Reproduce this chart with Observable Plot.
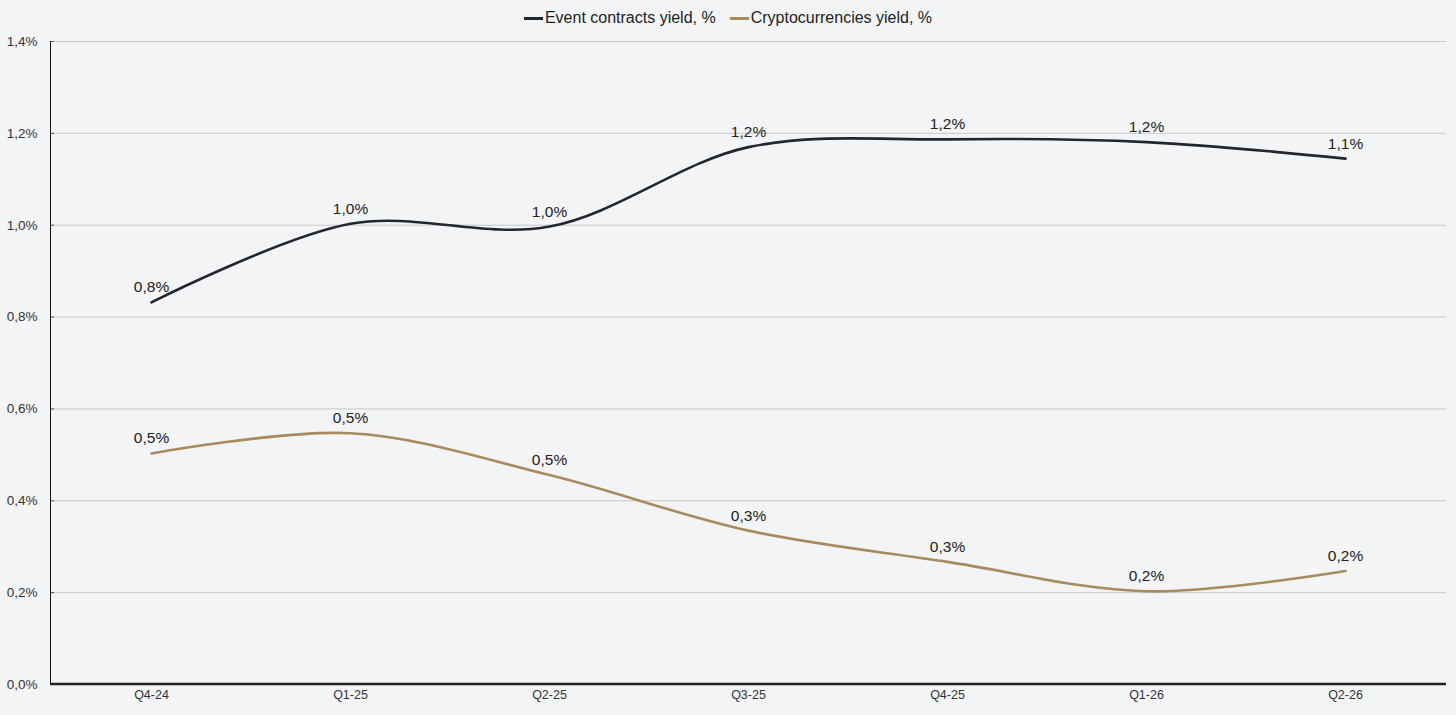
<!DOCTYPE html>
<html>
<head>
<meta charset="utf-8">
<script src="https://cdn.jsdelivr.net/npm/d3@7"></script>
<script src="https://cdn.jsdelivr.net/npm/@observablehq/plot@0.6"></script>
<style>
  html, body { margin: 0; padding: 0; background: #f3f4f6; }
  body { width: 1456px; height: 715px; overflow: hidden; font-family: "Liberation Sans", Arial, sans-serif; }
  #legend { height: 36px; display: flex; justify-content: center; align-items: center; gap: 14px; font-size: 16px; color: #222; padding-left: 0px; }
  #legend .item { display: flex; align-items: center; }
  #legend .sw { width: 19px; height: 3px; margin-right: 2px; }
  svg { overflow: visible; }
</style>
</head>
<body>
<div id="legend"></div>
<div id="chart"></div>
<script>
const quarters = ["Q4-24", "Q1-25", "Q2-25", "Q3-25", "Q4-25", "Q1-26", "Q2-26"];
const eventYield = [0.832, 1.003, 0.997, 1.17, 1.187, 1.181, 1.145];
const cryptoYield = [0.503, 0.547, 0.456, 0.335, 0.267, 0.203, 0.247];
const seriesNames = ["Event contracts yield, %", "Cryptocurrencies yield, %"];
const seriesColors = ["#22272f", "#a88b5c"];
const yTicks = [0, 0.2, 0.4, 0.6, 0.8, 1.0, 1.2, 1.4];

const fmt = v => (Math.round(v * 10) / 10).toFixed(1).replace(".", ",") + "%";

const rows = [];
quarters.forEach((q, i) => {
  rows.push({ q, v: eventYield[i], s: seriesNames[0] });
  rows.push({ q, v: cryptoYield[i], s: seriesNames[1] });
});

// legend
const legend = document.getElementById("legend");
seriesNames.forEach((name, i) => {
  const it = document.createElement("div");
  it.className = "item";
  const sw = document.createElement("span");
  sw.className = "sw";
  sw.style.background = seriesColors[i];
  const tx = document.createElement("span");
  tx.textContent = name;
  it.appendChild(sw); it.appendChild(tx);
  legend.appendChild(it);
});

const chart = Plot.plot({
  width: 1456,
  height: 679,
  marginTop: 5,
  marginBottom: 31,
  marginLeft: 50,
  marginRight: 10,
  style: { background: "#f3f4f6", fontFamily: "Liberation Sans, Arial, sans-serif", color: "#222", overflow: "visible" },
  x: { type: "point", domain: quarters, padding: 0.5, axis: null },
  y: { domain: [0, 1.4], axis: null },
  color: { domain: seriesNames, range: seriesColors },
  marks: [
    Plot.gridY(yTicks, { stroke: "#c8c8c8", strokeOpacity: 1, strokeWidth: 1 }),
    Plot.axisY(yTicks, { tickSize: -4, text: null, label: null, stroke: "#555" }),
    Plot.text(yTicks, { y: d => d, frameAnchor: "left", textAnchor: "end", dx: -13, fontSize: 13.5, fill: "#333", text: v => v.toFixed(1).replace(".", ",") + "%" }),
    Plot.text(quarters, { x: d => d, frameAnchor: "bottom", dy: 14, fontSize: 12.5, fill: "#333", text: d => d }),
    Plot.line(rows, { x: "q", y: "v", z: "s", stroke: "s", strokeWidth: 2.6, curve: "catmull-rom" }),
    Plot.text(rows, { x: "q", y: "v", text: d => fmt(d.v), dy: -15, fontSize: 15.5, fill: "#222" })
  ]
});
document.getElementById("chart").appendChild(chart);

// frame lines (left axis line and thick bottom baseline) placed via the chart's scales
const svg = d3.select(chart);
const ys = chart.scale("y");
svg.append("line").attr("x1", 50.5).attr("x2", 50.5).attr("y1", ys.apply(1.4)).attr("y2", ys.apply(0)).attr("stroke", "#111").attr("stroke-width", 1);
svg.append("line").attr("x1", 50).attr("x2", 1446).attr("y1", ys.apply(0)).attr("y2", ys.apply(0)).attr("stroke", "#222").attr("stroke-width", 2.5);
</script>
</body>
</html>
